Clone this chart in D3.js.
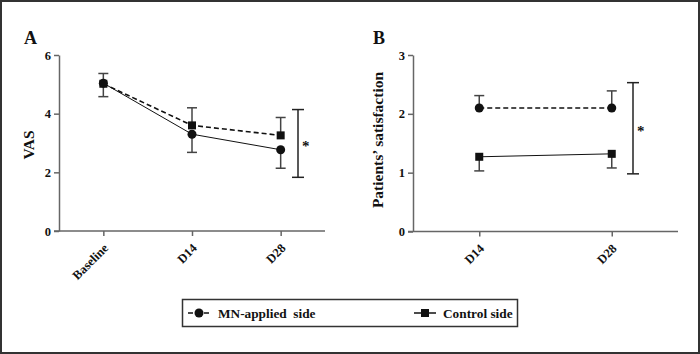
<!DOCTYPE html>
<html>
<head>
<meta charset="utf-8">
<script src="https://cdn.jsdelivr.net/npm/d3@7"></script>
<style>
  body { margin: 0; background: #fff; }
  svg { display: block; font-family: "Liberation Serif", "Times New Roman", serif; font-weight: bold; }
</style>
</head>
<body>
<svg id="drawing_region"></svg>
<script>
// Panel A: VAS
const vasDays = ["Baseline", "D14", "D28"];
const vasCircle = [5.04, 3.30, 2.77];          // solid line, circles
const vasCircleLo = [null, 2.68, 2.14];
const vasCircleHi = [5.37, null, null];
const vasSquare = [5.02, 3.60, 3.26];          // dashed line, squares
const vasSquareLo = [4.58, null, null];
const vasSquareHi = [null, 4.20, 3.87];
const vasTicks = [0, 2, 4, 6];
const vasSig = [1.83, 4.14];

// Panel B: satisfaction
const satDays = ["D14", "D28"];
const satCircle = [2.10, 2.10];                // dashed line, circles
const satCircleHi = [2.31, 2.39];
const satSquare = [1.27, 1.32];                // solid line, squares
const satSquareLo = [1.03, 1.08];
const satTicks = [0, 1, 2, 3];
const satSig = [0.98, 2.53];

const legendLabels = ["MN-applied  side", "Control side"];

const W = 700, H = 354;
const FONT = '"Liberation Serif", "Times New Roman", serif';
const svg = d3.select('#drawing_region').attr('width', W).attr('height', H);

svg.append('rect')
    .attr('x', 1).attr('y', 1).attr('width', W - 2).attr('height', H - 2)
    .attr('fill', '#fff').attr('stroke', '#333').attr('stroke-width', 2);

function drawPanel(cfg) {
    const x = d3.scalePoint().domain(cfg.days).range([cfg.left, cfg.right]).padding(0.5);
    const y = d3.scaleLinear().domain([0, cfg.ymax]).range([cfg.bottom, cfg.top]);
    const g = svg.append('g');

    // axes
    const yaxis = d3.axisLeft(y).tickValues(cfg.ticks).tickFormat(d3.format('d'))
        .tickSize(5).tickSizeOuter(0);
    const ya = g.append('g').attr('transform', `translate(${cfg.left},0)`).call(yaxis);
    const xaxis = d3.axisBottom(x).tickSize(5).tickSizeOuter(0);
    const xa = g.append('g').attr('transform', `translate(0,${cfg.bottom})`).call(xaxis);
    [ya, xa].forEach(a => {
        a.attr('font-family', FONT);
        a.select('.domain').attr('stroke', '#666').attr('stroke-width', 1.5);
        a.selectAll('.tick line').attr('stroke', '#666').attr('stroke-width', 1.5);
        a.selectAll('text').attr('fill', '#111').style('font-weight', 'bold');
    });
    // extend x axis line left to meet y tick
    xa.select('.domain').attr('d', `M${cfg.left - 5},0H${cfg.right}`);
    ya.selectAll('text').attr('font-size', 12.5).attr('x', -8);
    xa.selectAll('text').attr('font-size', 12.5)
        .attr('text-anchor', 'end')
        .attr('transform', 'rotate(-45)')
        .attr('x', -9).attr('y', 12).attr('dy', '0.35em');

    // panel letter
    g.append('text').attr('x', cfg.letterX).attr('y', 44)
        .attr('font-size', 18).attr('fill', '#111').text(cfg.letter);
    // y title
    g.append('text')
        .attr('transform', `translate(${cfg.titleX},${cfg.titleY}) rotate(-90)`)
        .attr('text-anchor', 'middle').attr('dy', '0.35em')
        .attr('font-size', 15.5).attr('fill', '#111').text(cfg.title);

    // lines
    const line = d3.line().x((d, i) => x(cfg.days[i])).y(d => y(d));
    cfg.series.forEach(s => {
        g.append('path').datum(s.values)
            .attr('d', line).attr('fill', 'none').attr('stroke', '#111')
            .attr('stroke-width', s.dashed ? 1.6 : 1)
            .attr('stroke-dasharray', s.dashed ? '5,3' : null);
    });
    // error bars
    cfg.series.forEach(s => {
        s.values.forEach((v, i) => {
            [s.lo ? s.lo[i] : null, s.hi ? s.hi[i] : null].forEach(e => {
                if (e === null || e === undefined) return;
                const cx = x(cfg.days[i]);
                g.append('line').attr('x1', cx).attr('x2', cx).attr('y1', y(v)).attr('y2', y(e))
                    .attr('stroke', '#444').attr('stroke-width', 1.5);
                g.append('line').attr('x1', cx - 5).attr('x2', cx + 5).attr('y1', y(e)).attr('y2', y(e))
                    .attr('stroke', '#444').attr('stroke-width', 1.5);
            });
        });
    });
    // markers
    cfg.series.forEach(s => {
        s.values.forEach((v, i) => {
            const cx = x(cfg.days[i]), cy = y(v);
            if (s.shape === 'circle') {
                g.append('circle').attr('cx', cx).attr('cy', cy).attr('r', 4.5).attr('fill', '#111');
            } else {
                g.append('rect').attr('x', cx - 4).attr('y', cy - 4).attr('width', 8).attr('height', 8).attr('fill', '#111');
            }
        });
    });
    // significance bracket
    const sx = cfg.sigX;
    g.append('line').attr('x1', sx).attr('x2', sx).attr('y1', y(cfg.sig[0])).attr('y2', y(cfg.sig[1]))
        .attr('stroke', '#222').attr('stroke-width', 1.5);
    cfg.sig.forEach(v => {
        g.append('line').attr('x1', sx - 6).attr('x2', sx + 6).attr('y1', y(v)).attr('y2', y(v))
            .attr('stroke', '#222').attr('stroke-width', 1.5);
    });
    g.append('text').attr('x', sx + 4).attr('y', (y(cfg.sig[0]) + y(cfg.sig[1])) / 2 + 8)
        .attr('font-size', 15).attr('fill', '#111').text('*');
}

drawPanel({
    days: vasDays, ymax: 6, ticks: vasTicks,
    left: 59, right: 325, top: 55, bottom: 231,
    letter: 'A', letterX: 24, title: 'VAS', titleX: 29, titleY: 145,
    series: [
        { values: vasSquare, lo: vasSquareLo, hi: vasSquareHi, shape: 'square', dashed: true },
        { values: vasCircle, lo: vasCircleLo, hi: vasCircleHi, shape: 'circle', dashed: false }
    ],
    sig: vasSig, sigX: 298
});

drawPanel({
    days: satDays, ymax: 3, ticks: satTicks,
    left: 413, right: 678, top: 55, bottom: 231.5,
    letter: 'B', letterX: 373, title: 'Patients\u2019 satisfaction', titleX: 378, titleY: 140,
    series: [
        { values: satCircle, lo: null, hi: satCircleHi, shape: 'circle', dashed: true },
        { values: satSquare, lo: satSquareLo, hi: null, shape: 'square', dashed: false }
    ],
    sig: satSig, sigX: 633
});

// legend
const lg = svg.append('g');
lg.append('rect').attr('x', 182.5).attr('y', 299.5).attr('width', 335).attr('height', 27)
    .attr('fill', 'none').attr('stroke', '#333').attr('stroke-width', 1.5);
const items = [
    { x0: 188, x1: 210, tx: 218, shape: 'circle', dashed: true, label: legendLabels[0] },
    { x0: 414, x1: 436, tx: 443, shape: 'square', dashed: false, label: legendLabels[1] }
];
items.forEach(it => {
    const cy = 313, cx = (it.x0 + it.x1) / 2;
    lg.append('line').attr('x1', it.x0).attr('x2', it.x1).attr('y1', cy).attr('y2', cy)
        .attr('stroke', '#111').attr('stroke-width', 1.5)
        .attr('stroke-dasharray', it.dashed ? '5,3' : null);
    if (it.shape === 'circle') {
        lg.append('circle').attr('cx', cx).attr('cy', cy).attr('r', 4.5).attr('fill', '#111');
    } else {
        lg.append('rect').attr('x', cx - 4).attr('y', cy - 4).attr('width', 8).attr('height', 8).attr('fill', '#111');
    }
    lg.append('text').attr('x', it.tx).attr('y', cy).attr('dy', '0.35em')
        .attr('font-size', 13.3).attr('fill', '#111').style('white-space', 'pre').text(it.label);
});
</script>
</body>
</html>
